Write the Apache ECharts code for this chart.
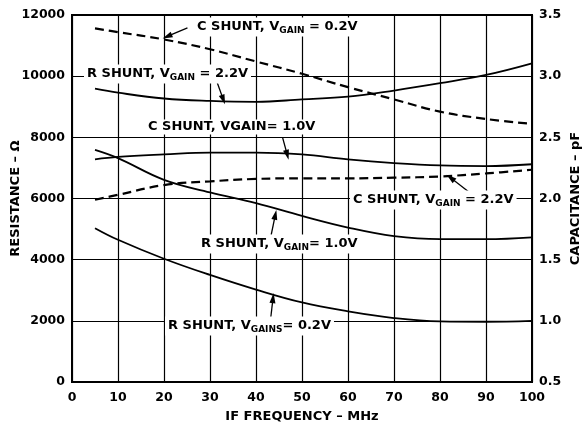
<!DOCTYPE html>
<html>
<head>
<meta charset="utf-8">
<script src="https://cdn.jsdelivr.net/npm/echarts@6/dist/echarts.min.js"></script>
<style>
  html, body { margin: 0; padding: 0; background: #fff; }
  #main { width: 586px; height: 429px; }
</style>
</head>
<body>
<div id="main"></div>
<script type="text/javascript">
// IF frequency (MHz) where the curves were read
var freq = [5, 10, 20, 30, 40, 50, 60, 70, 80, 90, 100];
// R shunt, ohms (left axis)
var rShunt22 = [9590, 9460, 9270, 9190, 9160, 9240, 9330, 9530, 9770, 10040, 10420];
var rShunt10 = [7590, 7320, 6610, 6200, 5850, 5430, 5050, 4770, 4670, 4670, 4730];
var rShunt02 = [5030, 4650, 4030, 3500, 3020, 2600, 2310, 2090, 1980, 1970, 2000];
// C shunt, pF (right axis)
var cShunt02 = [3.39, 3.36, 3.30, 3.22, 3.12, 3.02, 2.91, 2.81, 2.71, 2.65, 2.61];
var cShunt10 = [2.32, 2.34, 2.36, 2.375, 2.375, 2.36, 2.32, 2.29, 2.27, 2.265, 2.28];
var cShunt22 = [1.99, 2.03, 2.11, 2.14, 2.16, 2.165, 2.165, 2.17, 2.18, 2.205, 2.235];

var FONT = 'DejaVu Sans';

function pairs(ys) {
	return freq.map(function (f, i) { return [f, ys[i]]; });
}

// callout text, white box breaks the grid lines behind it
function callout(x, y, parts) {
	return {
		type: 'text', x: x, y: y, z: 50,
		style: {
			text: parts,
			rich: {
				b: { fontFamily: FONT, fontWeight: 'bold', fontSize: 13, fill: '#000' },
				s: { fontFamily: FONT, fontWeight: 'bold', fontSize: 9, fill: '#000', padding: [8, 0, 0, 0] }
			},
			verticalAlign: 'middle',
			backgroundColor: '#fff',
			padding: [1, 3, 1, 3]
		}
	};
}

function curve(name, ys, axis, dashed) {
	return {
		name: name, type: 'line', yAxisIndex: axis,
		data: pairs(ys), smooth: 0.4,
		showSymbol: false, silent: true, animation: false,
		lineStyle: { color: '#000', width: dashed ? 2.2 : 1.8, type: dashed ? [9, 5] : 'solid' }
	};
}

var myChart = echarts.init(document.getElementById('main'));

var r02 = curve('R SHUNT 0.2V', rShunt02, 0, false);
// arrows from the callouts to the curves, in left-axis units
r02.markLine = {
	silent: true, animation: false,
	symbol: ['none', 'triangle'], symbolSize: [6, 10],
	label: { show: false },
	lineStyle: { color: '#000', width: 1.3, type: 'solid' },
	data: [
		[{ coord: [25.1, 11577] }, { coord: [20.7, 11298] }],
		[{ coord: [31.6, 9778] }, { coord: [32.9, 9233] }],
		[{ coord: [45.8, 7981] }, { coord: [46.8, 7426] }],
		[{ coord: [86.5, 6185] }, { coord: [82.3, 6675] }],
		[{ coord: [43.3, 4812] }, { coord: [44.2, 5466] }],
		[{ coord: [43.2, 2091] }, { coord: [43.7, 2744] }]
	]
};

var option = {
	animation: false,
	grid: {
		left: 72, right: 54, top: 15, bottom: 47, outerBoundsMode: 'none',
		show: true, borderColor: '#000', borderWidth: 2
	},
	xAxis: {
		type: 'value', min: 0, max: 100, interval: 10,
		name: 'IF FREQUENCY – MHz', nameLocation: 'middle', nameGap: 28, nameMoveOverlap: false,
		nameTextStyle: { fontFamily: FONT, fontWeight: 'bold', fontSize: 13, color: '#000' },
		axisLine: { show: false }, axisTick: { show: false },
		axisLabel: { fontFamily: FONT, fontWeight: 'bold', fontSize: 12.5, color: '#000', margin: 9 },
		splitLine: { lineStyle: { color: '#000', width: 1.2 } }
	},
	yAxis: [{
		type: 'value', min: 0, max: 12000, interval: 2000,
		name: 'RESISTANCE – Ω', nameLocation: 'middle', nameGap: 50, nameRotate: 90, nameMoveOverlap: false,
		nameTextStyle: { fontFamily: FONT, fontWeight: 'bold', fontSize: 13, color: '#000' },
		axisLine: { show: false }, axisTick: { show: false },
		axisLabel: {
			fontFamily: FONT, fontWeight: 'bold', fontSize: 12.5, color: '#000', margin: 7,
			formatter: function (v) { return String(v); }
		},
		splitLine: { lineStyle: { color: '#000', width: 1.2 } }
	}, {
		type: 'value', min: 0.5, max: 3.5, interval: 0.5, position: 'right',
		name: 'CAPACITANCE – pF', nameLocation: 'middle', nameGap: 37, nameRotate: 90, nameMoveOverlap: false,
		nameTextStyle: { fontFamily: FONT, fontWeight: 'bold', fontSize: 13, color: '#000' },
		axisLine: { show: false }, axisTick: { show: false },
		axisLabel: {
			fontFamily: FONT, fontWeight: 'bold', fontSize: 12.5, color: '#000', margin: 7,
			formatter: function (v) { return v.toFixed(1); }
		},
		splitLine: { show: false }
	}],
	series: [
		curve('R SHUNT 2.2V', rShunt22, 0, false),
		curve('R SHUNT 1.0V', rShunt10, 0, false),
		r02,
		curve('C SHUNT 0.2V', cShunt02, 1, true),
		curve('C SHUNT 1.0V', cShunt10, 1, false),
		curve('C SHUNT 2.2V', cShunt22, 1, true)
	],
	graphic: [
		callout(194, 27, '{b|C SHUNT, V}{s|GAIN}{b| = 0.2V}'),
		callout(84, 74, '{b|R SHUNT, V}{s|GAIN}{b| = 2.2V}'),
		callout(145, 127, '{b|C SHUNT, VGAIN= 1.0V}'),
		callout(350, 200, '{b|C SHUNT, V}{s|GAIN}{b| = 2.2V}'),
		callout(198, 244, '{b|R SHUNT, V}{s|GAIN}{b|= 1.0V}'),
		callout(165, 326, '{b|R SHUNT, V}{s|GAINS}{b|= 0.2V}')
	]
};

myChart.setOption(option);
</script>
</body>
</html>
